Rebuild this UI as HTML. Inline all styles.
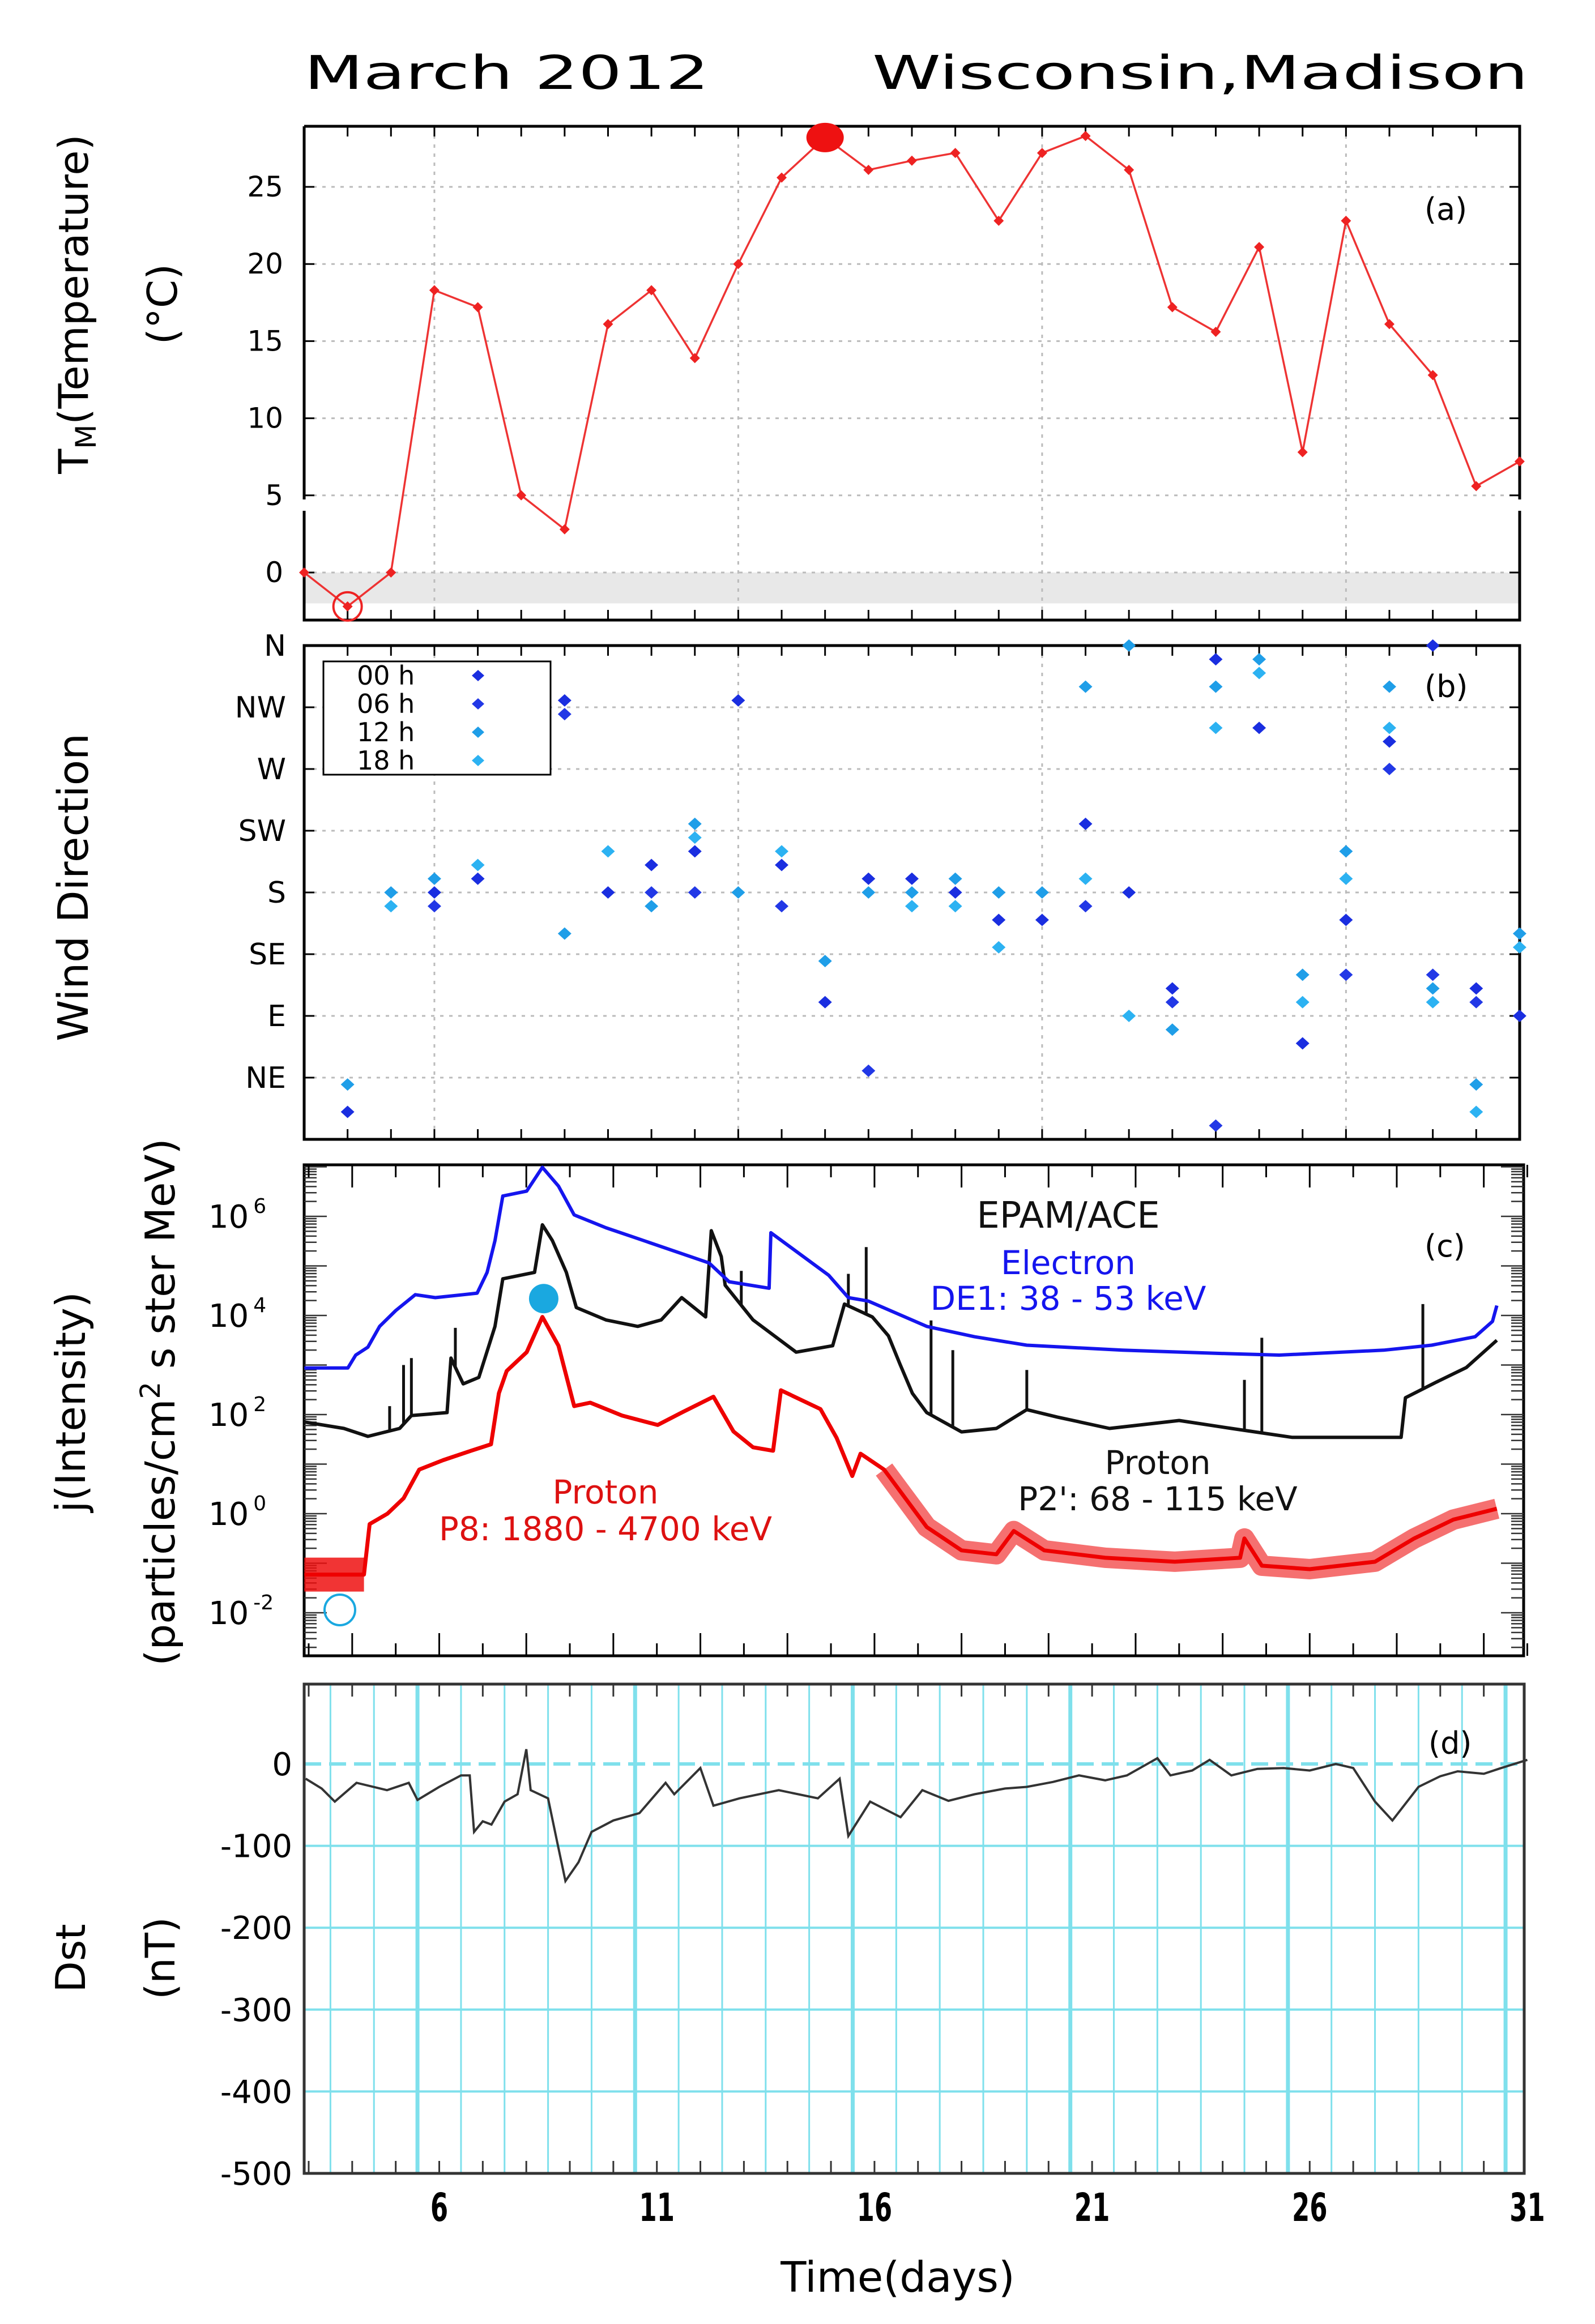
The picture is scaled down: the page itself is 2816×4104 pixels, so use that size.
<!DOCTYPE html>
<html><head><meta charset="utf-8"><style>
html,body{margin:0;padding:0;background:#fff}
svg{display:block}
text{font-family:"DejaVu Sans","Liberation Sans",sans-serif}
</style></head><body>
<svg id="fig" width="2816" height="4104" viewBox="0 0 2816 4104" xmlns="http://www.w3.org/2000/svg">
<rect x="0" y="0" width="2816" height="4104" fill="#fff"/>
<text x="537" y="157" font-size="82" textLength="715" lengthAdjust="spacingAndGlyphs">March 2012</text>
<text x="1540" y="157" font-size="82" textLength="1158" lengthAdjust="spacingAndGlyphs">Wisconsin,Madison</text>
<g id="pa"></g>
<g id="pb"></g>
<g id="pc"></g>
<g id="pd"></g>
</svg>
<script>
// ---------- data ----------
const tempDays=[3,4,5,6,7,8,9,10,11,12,13,14,15,16,17,18,19,20,21,22,23,24,25,26,27,28,29,30,31];
const tempVals=[0,-2.2,0,18.3,17.2,5.0,2.8,16.1,18.3,13.9,20.0,25.6,28.2,26.1,26.7,27.2,22.8,27.2,28.3,26.1,17.2,15.6,21.1,7.8,22.8,16.1,12.8,5.6,7.2];
const tempTicks=[0,5,10,15,20,25];
const windDays=[4,4, 5,5, 6,6,6, 7,7, 9,9,9, 10,10, 11,11,11, 12,12,12,12, 13,13, 14,14,14, 15,15, 16,16,16, 17,17,17, 18,18,18, 19,19,19, 20,20, 21,21,21,21, 22,22,22, 23,23,23, 24,24,24,24, 25,25,25, 26,26,26, 27,27,27,27, 28,28,28,28, 29,29,29,29, 30,30,30,30, 31,31,31];
const windDeg=[40,20, 180,170, 190,180,170, 200,190, 320,310,150, 210,180, 200,180,170, 230,220,210,180, 320,180, 210,200,170, 130,100, 190,180,50, 190,180,170, 190,180,170, 180,160,140, 180,160, 330,230,190,170, 360,180,90, 110,100,80, 350,330,300,10, 350,340,300, 120,100,70, 210,190,160,120, 330,300,290,270, 360,120,110,100, 110,100,40,20, 150,140,90];
const windHour=[12,0, 12,18, 12,0,6, 18,0, 0,6,12, 18,0, 0,6,12, 12,18,0,6, 0,12, 18,0,6, 12,0, 0,12,6, 0,12,18, 12,0,18, 12,0,18, 12,0, 12,0,18,6, 12,0,18, 0,6,12, 0,12,18,6, 12,18,0, 12,18,0, 12,18,0,6, 12,18,0,6, 0,6,12,18, 0,6,12,18, 12,18,0];
const windLabels=['NE','E','SE','S','SW','W','NW','N'];
const windLabelDeg=[45,90,135,180,225,270,315,360];
const elecDays=[2.9,3.9,4.08,4.36,4.63,5.0,5.45,5.91,6.55,6.87,7.1,7.28,7.46,8.01,8.37,8.74,9.1,9.83,10.47,12.2,12.66,13.58,13.62,14.95,15.4,15.86,17.2,18.3,19.5,21.7,24.1,25.3,27.7,28.8,29.8,30.2,30.3];
const elecLog=[2.94,2.94,3.2,3.36,3.78,4.1,4.42,4.36,4.42,4.45,4.87,5.51,6.41,6.51,6.99,6.61,6.03,5.77,5.58,5.06,4.68,4.55,5.67,4.81,4.36,4.29,3.78,3.57,3.4,3.3,3.23,3.2,3.3,3.4,3.57,3.88,4.2];
const protDays=[2.9,3.81,4.36,5.09,5.36,6.18,6.27,6.55,6.91,7.28,7.46,8.19,8.37,8.6,8.92,9.15,9.83,10.56,11.1,11.57,12.12,12.25,12.48,12.57,13.21,14.2,15.04,15.31,15.95,16.32,16.59,16.87,17.2,18.0,18.8,19.5,20.2,21.4,23.0,24.2,25.6,28.1,28.2,28.9,29.6,30.3];
const protLog=[1.85,1.72,1.56,1.72,1.98,2.04,3.14,2.62,2.75,3.78,4.74,4.87,5.83,5.51,4.87,4.16,3.91,3.78,3.91,4.36,3.97,5.71,5.19,4.61,3.91,3.26,3.39,4.23,3.97,3.59,3.01,2.43,2.04,1.65,1.72,2.1,1.95,1.72,1.88,1.72,1.54,1.54,2.34,2.65,2.95,3.5];
const spikeDays=[4.86,5.18,5.36,6.37,12.94,15.4,15.81,17.3,17.8,19.5,24.5,24.9,28.6];
const spikeLog=[2.17,3.0,3.14,3.75,4.9,4.84,5.38,3.9,3.3,2.9,2.7,3.55,4.23];
const p8Days=[2.9,4.27,4.4,4.81,5.18,5.54,6.09,6.73,7.19,7.37,7.55,8.01,8.37,8.74,9.1,9.47,10.2,11.02,11.57,12.3,12.76,13.21,13.67,13.85,14.76,15.13,15.49,15.68,16.22,17.2,18.0,18.8,19.2,19.9,21.3,22.9,24.4,24.5,24.9,26.0,27.5,28.4,29.3,30.3];
const p8Log=[-1.23,-1.23,-0.21,0.0,0.31,0.89,1.08,1.27,1.4,2.43,2.88,3.26,3.97,3.39,2.17,2.24,1.98,1.79,2.04,2.36,1.66,1.34,1.27,2.49,2.11,1.53,0.76,1.21,0.89,-0.27,-0.74,-0.82,-0.35,-0.74,-0.89,-0.97,-0.89,-0.5,-1.05,-1.12,-0.97,-0.5,-0.12,0.1];
const cTicks=[-2,0,2,4,6];
const dstDays=[2.93,3.3,3.6,4.1,4.8,5.3,5.5,6.0,6.5,6.7,6.8,7.0,7.2,7.5,7.8,8.0,8.1,8.5,8.7,8.9,9.2,9.5,10.0,10.6,11.2,11.4,12.0,12.3,12.9,13.8,14.7,15.2,15.4,15.9,16.6,17.1,17.7,18.3,19.0,19.5,20.1,20.7,21.3,21.8,22.5,22.8,23.3,23.7,24.2,24.8,25.4,26.0,26.6,27.0,27.5,27.9,28.5,29.0,29.4,30.0,30.4,31.0];
const dstVals=[-18,-30,-46,-23,-32,-23,-44,-28,-14,-14,-83,-70,-74,-46,-37,18,-32,-42,-93,-143,-120,-83,-69,-60,-23,-37,-5,-51,-42,-32,-42,-18,-88,-46,-65,-32,-45,-37,-30,-28,-22,-14,-20,-14,7,-14,-8,5,-14,-6,-5,-8,0,-5,-46,-69,-28,-15,-9,-12,-5,5];
const dstTicks=[0,-100,-200,-300,-400,-500];
const xDayTicks=[6,11,16,21,26,31];

// ---------- helpers ----------
const NS='http://www.w3.org/2000/svg';
function mk(parent,tag,attrs,txt){const e=document.createElementNS(NS,tag);for(const k in attrs)e.setAttribute(k,attrs[k]);if(txt!==undefined)e.textContent=txt;parent.appendChild(e);return e;}
const xa=d=>537+(d-3)*76.64;
const xc=d=>775.5+(d-6)*76.84;
const PA={l:537,r:2683,t:223,b:1095};
const PB={l:537,r:2683,t:1140,b:2012};
const PC={l:537,r:2690,t:2057,b:2924};
const PD={l:537,r:2691,t:2974,b:3838};
const yT=v=>1011-v*27.24;
const yW=v=>2012-v*(872/360);
const yC=L=>2148+(6-L)*87.5;
function yDst(v){return 3115-v*1.446;}
function interp(days,vals,d){for(let i=1;i<days.length;i++){if(d<=days[i]){const t=(d-days[i-1])/(days[i]-days[i-1]);return vals[i-1]+t*(vals[i]-vals[i-1]);}}return vals[vals.length-1];}

// ---------- panel a ----------
const pa=document.getElementById('pa');
let e;
e=mk(pa,'rect',{x:PA.l,y:yT(0),width:PA.r-PA.l,height:yT(-2)-yT(0),fill:'#e8e8e8'});


tempTicks.forEach(v=>{
  e=mk(pa,'line',{x1:PA.l,x2:PA.r,y1:yT(v),y2:yT(v),stroke:'#bbb','stroke-width':3,'stroke-dasharray':'6 10'});
  
  
  e=mk(pa,'text',{x:500,y:yT(v)+17,'font-size':50,'text-anchor':'end'},String(v));
  
  
  mk(pa,'line',{x1:PA.l,x2:PA.l+18,y1:yT(v),y2:yT(v),stroke:'#000','stroke-width':3});
  mk(pa,'line',{x1:PA.r-18,x2:PA.r,y1:yT(v),y2:yT(v),stroke:'#000','stroke-width':3});
});
[6,13,20,27].forEach(d=>{
  e=mk(pa,'line',{x1:xa(d),x2:xa(d),y1:PA.t,y2:PA.b,stroke:'#bbb','stroke-width':3,'stroke-dasharray':'6 10'});
  
  
});
for(let d=3;d<=31;d++){
  mk(pa,'line',{x1:xa(d),x2:xa(d),y1:PA.t,y2:PA.t+18,stroke:'#000','stroke-width':3});
  mk(pa,'line',{x1:xa(d),x2:xa(d),y1:PA.b-18,y2:PA.b,stroke:'#000','stroke-width':3});
}
mk(pa,'path',{d:`M${PA.l},${PA.t}H${PA.r}V882M${PA.r},902V${PA.b}H${PA.l}V902M${PA.l},882V${PA.t}`,fill:'none',stroke:'#000','stroke-width':5});
let pts=tempDays.map((d,i)=>xa(d)+','+yT(tempVals[i])).join(' ');
e=mk(pa,'polyline',{points:pts,fill:'none',stroke:'#ee3333','stroke-width':3.5});


tempDays.forEach((d,i)=>{
  const x=xa(d),y=yT(tempVals[i]);
  e=mk(pa,'path',{d:`M${x},${y-9}L${x+9},${y}L${x},${y+9}L${x-9},${y}Z`,fill:'#ee2222'});
  
  
});
{const i=tempVals.indexOf(Math.max(...tempVals.slice(0,15)));
e=mk(pa,'ellipse',{cx:xa(tempDays[i]),cy:yT(tempVals[i]),rx:33,ry:26,fill:'#ee1111'});


const j=tempVals.indexOf(Math.min(...tempVals));
e=mk(pa,'circle',{cx:xa(tempDays[j]),cy:yT(tempVals[j]),r:25,fill:'none',stroke:'#ee2222','stroke-width':4});

}
e=mk(pa,'text',{x:2515,y:388,'font-size':54},'(a)');


e=mk(pa,'text',{x:0,y:0,'font-size':72,'text-anchor':'middle',transform:'translate(155,537) rotate(-90)'});


e.innerHTML='T<tspan font-size="50" dy="14">M</tspan><tspan dy="-14">(Temperature)</tspan>';
e=mk(pa,'text',{x:0,y:0,'font-size':72,'text-anchor':'middle',transform:'translate(312,537) rotate(-90)'},'(°C)');



// ---------- panel b ----------
const pb=document.getElementById('pb');
windLabelDeg.forEach((v,i)=>{
  e=mk(pb,'line',{x1:PB.l,x2:PB.r,y1:yW(v),y2:yW(v),stroke:'#bbb','stroke-width':3,'stroke-dasharray':'6 10'});
  
  
  e=mk(pb,'text',{x:505,y:yW(v)+18,'font-size':52,'text-anchor':'end'},windLabels[i]);
  
  
  mk(pb,'line',{x1:PB.l,x2:PB.l+18,y1:yW(v),y2:yW(v),stroke:'#000','stroke-width':3});
  mk(pb,'line',{x1:PB.r-18,x2:PB.r,y1:yW(v),y2:yW(v),stroke:'#000','stroke-width':3});
});
[6,13,20,27].forEach(d=>{
  e=mk(pb,'line',{x1:xa(d),x2:xa(d),y1:PB.t,y2:PB.b,stroke:'#bbb','stroke-width':3,'stroke-dasharray':'6 10'});
  
  
});
for(let d=3;d<=31;d++){
  mk(pb,'line',{x1:xa(d),x2:xa(d),y1:PB.t,y2:PB.t+18,stroke:'#000','stroke-width':3});
  mk(pb,'line',{x1:xa(d),x2:xa(d),y1:PB.b-18,y2:PB.b,stroke:'#000','stroke-width':3});
}
mk(pb,'rect',{x:PB.l,y:PB.t,width:PB.r-PB.l,height:PB.b-PB.t,fill:'none',stroke:'#000','stroke-width':5});
const hourColor={0:'#1a2ee0',6:'#2238e6',12:'#1f9ee8',18:'#2cb2f2'};
windDays.forEach((d,i)=>{
  const x=xa(d),y=yW(windDeg[i]);
  e=mk(pb,'path',{d:`M${x},${y-11}L${x+12},${y}L${x},${y+11}L${x-12},${y}Z`,fill:hourColor[windHour[i]]});
  
  
});
e=mk(pb,'rect',{x:571,y:1168,width:401,height:200,fill:'#fff',stroke:'#000','stroke-width':3});


['00 h','06 h','12 h','18 h'].forEach((t,i)=>{
  const y=1193+i*50,hr=[0,6,12,18][i];
  e=mk(pb,'text',{x:630,y:y+16,'font-size':46},t);
  
  
  e=mk(pb,'path',{d:`M844,${y-10}L855,${y}L844,${y+10}L833,${y}Z`,fill:hourColor[hr]});
  
  
});
e=mk(pb,'text',{x:2515,y:1231,'font-size':54},'(b)');


e=mk(pb,'text',{x:0,y:0,'font-size':74,'text-anchor':'middle',transform:'translate(155,1567) rotate(-90)'},'Wind Direction');



// ---------- panel c ----------
const pc=document.getElementById('pc');
mk(pc,'rect',{x:PC.l,y:PC.t,width:PC.r-PC.l,height:PC.b-PC.t,fill:'none',stroke:'#000','stroke-width':5});
for(let L=-3;L<=7;L++){
  for(let m=1;m<10;m++){
    const v=L+Math.log10(m);const y=yC(v);
    if(y<PC.t||y>PC.b)continue;
    const len=m===1?40:22;
    mk(pc,'line',{x1:PC.l,x2:PC.l+len,y1:y,y2:y,stroke:'#333','stroke-width':2.5});
    mk(pc,'line',{x1:PC.r-len,x2:PC.r,y1:y,y2:y,stroke:'#333','stroke-width':2.5});
  }
}
cTicks.forEach(L=>{
  e=mk(pc,'text',{x:368,y:yC(L)+20,'font-size':56});
  
  
  e.innerHTML='10<tspan font-size="36" dy="-26" dx="8">'+L+'</tspan>';
});
for(let d=3;d<=31;d++){
  const len=(d%2===0)?40:22;
  mk(pc,'line',{x1:xc(d),x2:xc(d),y1:PC.t,y2:PC.t+len,stroke:'#000','stroke-width':3});
  mk(pc,'line',{x1:xc(d),x2:xc(d),y1:PC.b-len,y2:PC.b,stroke:'#000','stroke-width':3});
}
function series(days,vals,filt){const out=[];days.forEach((d,i)=>{if(!filt||filt(d))out.push(xc(d).toFixed(1)+','+yC(vals[i]).toFixed(1));});return out.join(' ');}
e=mk(pc,'polyline',{points:series(p8Days,p8Log,d=>d>=16.2),fill:'none',stroke:'#ee1111','stroke-width':36,'stroke-linejoin':'round','stroke-opacity':0.6});


e=mk(pc,'polyline',{points:series(p8Days,p8Log,d=>d<=4.3),fill:'none',stroke:'#ee1111','stroke-width':60,'stroke-opacity':0.85});


e=mk(pc,'polyline',{points:series(p8Days,p8Log),fill:'none',stroke:'#ee0000','stroke-width':7,'stroke-linejoin':'round'});


e=mk(pc,'polyline',{points:series(protDays,protLog),fill:'none',stroke:'#111','stroke-width':6,'stroke-linejoin':'round'});


spikeDays.forEach((d,i)=>{
  const base=interp(protDays,protLog,d);
  e=mk(pc,'line',{x1:xc(d),x2:xc(d),y1:yC(base),y2:yC(spikeLog[i]),stroke:'#111','stroke-width':5});
  
  
});
e=mk(pc,'polyline',{points:series(elecDays,elecLog),fill:'none',stroke:'#1515ee','stroke-width':6,'stroke-linejoin':'round'});


e=mk(pc,'circle',{cx:xc(8.4),cy:yC(4.34),r:26,fill:'#1aa8e0'});


e=mk(pc,'circle',{cx:600,cy:2843,r:27,fill:'none',stroke:'#1aa8e0','stroke-width':4});


const ct=[['EPAM/ACE',1886,2168,'#111',64],['Electron',1886,2250,'#1515ee',58],['DE1: 38 - 53 keV',1886,2313,'#1515ee',58],['Proton',2044,2603,'#111',58],["P2': 68 - 115 keV",2044,2667,'#111',58],['Proton',1069,2655,'#dd1111',58],['P8: 1880 - 4700 keV',1069,2720,'#dd1111',58]];
ct.forEach(c=>{
  e=mk(pc,'text',{x:c[1],y:c[2],'font-size':c[4],'text-anchor':'middle',fill:c[3]},c[0]);
  
  
});
e=mk(pc,'text',{x:2515,y:2219,'font-size':54},'(c)');


e=mk(pc,'text',{x:0,y:0,'font-size':72,'text-anchor':'middle',transform:'translate(150,2476) rotate(-90)'},'j(Intensity)');


e=mk(pc,'text',{x:0,y:0,'font-size':72,'text-anchor':'middle',transform:'translate(308,2476) rotate(-90)'});


e.innerHTML='(particles/cm<tspan font-size="48" dy="-26">2</tspan><tspan dy="26"> s ster MeV)</tspan>';

// ---------- panel d ----------
const pd=document.getElementById('pd');
for(let d=3;d<=31;d++){
  const x=xc(d+0.5);if(x>PD.r)continue;
  const major=(d%5===0);
  e=mk(pd,'line',{x1:x,x2:x,y1:PD.t,y2:PD.b,stroke:'#7fe0ec','stroke-width':major?7:3});
  
  
  mk(pd,'line',{x1:xc(d),x2:xc(d),y1:PD.t,y2:PD.t+22,stroke:'#333','stroke-width':3});
  mk(pd,'line',{x1:xc(d),x2:xc(d),y1:PD.b-22,y2:PD.b,stroke:'#333','stroke-width':3});
}
dstTicks.forEach(v=>{
  const y=yDst(v);
  e=mk(pd,'line',{x1:PD.l,x2:PD.r,y1:y,y2:y,stroke:'#7fe0ec','stroke-width':v===0?6:4,'stroke-dasharray':v===0?'30 14':'none'});
  
  
  e=mk(pd,'text',{x:516,y:y+20,'font-size':56,'text-anchor':'end'},String(v));
  
  
});
mk(pd,'rect',{x:PD.l,y:PD.t,width:PD.r-PD.l,height:PD.b-PD.t,fill:'none',stroke:'#333','stroke-width':5});
e=mk(pd,'polyline',{points:dstDays.map((d,i)=>xc(d).toFixed(1)+','+yDst(dstVals[i]).toFixed(1)).join(' '),fill:'none',stroke:'#333','stroke-width':4});


xDayTicks.forEach(d=>{
  e=mk(pd,'text',{x:0,y:0,'font-size':60,'font-family':'Liberation Sans','font-weight':'bold','text-anchor':'middle',transform:`translate(${xc(d)},3922) scale(0.75,1.15)`},String(d));
  
  
});
e=mk(pd,'text',{x:1585,y:4047,'font-size':74,'text-anchor':'middle'},'Time(days)');


e=mk(pd,'text',{x:2522,y:3097,'font-size':54},'(d)');


e=mk(pd,'text',{x:0,y:0,'font-size':72,'text-anchor':'middle',transform:'translate(150,3458) rotate(-90)'},'Dst');


e=mk(pd,'text',{x:0,y:0,'font-size':72,'text-anchor':'middle',transform:'translate(308,3458) rotate(-90)'},'(nT)');


</script>
</body></html>
